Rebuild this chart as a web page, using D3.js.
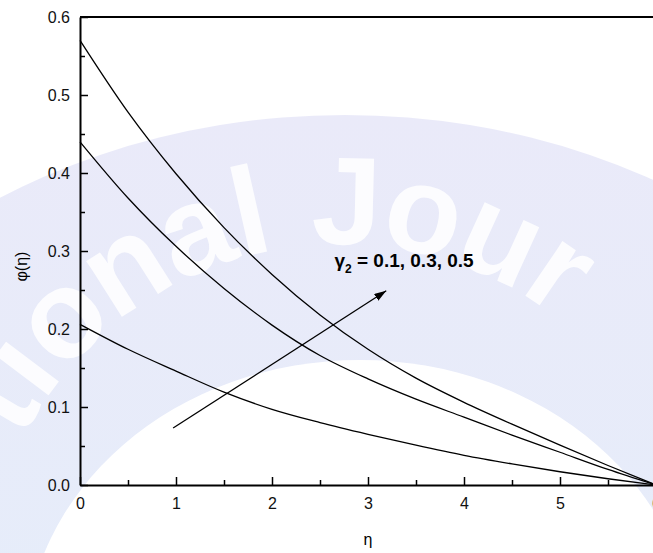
<!DOCTYPE html>
<html>
<head>
<meta charset="utf-8">
<script src="https://cdn.jsdelivr.net/npm/d3@7"></script>
<style>
  body { margin: 0; background: #fff; }
  text { font-family: Arial, "Liberation Sans", sans-serif; }
</style>
</head>
<body>
<svg id="chart" width="653" height="553"></svg>
<script>
// eta grid and concentration profiles
var etaValues = [0, 0.5, 1, 1.5, 2, 2.5, 3, 3.5, 4, 4.5, 5, 5.5, 6];
var phiGamma01 = [0.206, 0.174, 0.146, 0.119, 0.097, 0.080, 0.065, 0.051, 0.038, 0.027, 0.017, 0.008, 0];
var phiGamma03 = [0.440, 0.368, 0.306, 0.252, 0.205, 0.166, 0.136, 0.110, 0.087, 0.064, 0.042, 0.020, 0];
var phiGamma05 = [0.570, 0.478, 0.399, 0.330, 0.270, 0.218, 0.174, 0.137, 0.106, 0.078, 0.051, 0.025, 0];

var xTicks = [0, 1, 2, 3, 4, 5, 6];
var yTicks = [0.0, 0.1, 0.2, 0.3, 0.4, 0.5, 0.6];
var xMinor = [0.5, 1.5, 2.5, 3.5, 4.5, 5.5];
var yMinor = [0.05, 0.15, 0.25, 0.35, 0.45, 0.55];

// arrow: from -> to, in data units
var arrowFrom = [0.97, 0.073];
var arrowTo = [3.19, 0.249];
var labelPos = [2.65, 0.279];

var svg = d3.select('#chart');

// ---- faint watermark behind the plot ----
var defs = svg.append('defs');
var grad = defs.append('linearGradient')
	.attr('id', 'wmGrad')
	.attr('x1', 0).attr('y1', 0).attr('x2', 0).attr('y2', 1);
grad.append('stop').attr('offset', '0%').attr('stop-color', '#eaeaf9');
grad.append('stop').attr('offset', '55%').attr('stop-color', '#e5edfa');
grad.append('stop').attr('offset', '100%').attr('stop-color', '#ddf2fb');

var wm = svg.append('g').attr('class', 'watermark');
wm.append('ellipse')
	.attr('cx', 345).attr('cy', 640)
	.attr('rx', 640).attr('ry', 525)
	.style('fill', 'url(#wmGrad)');
wm.append('ellipse')
	.attr('cx', 360).attr('cy', 650)
	.attr('rx', 335).attr('ry', 290)
	.style('fill', '#ffffff');

defs.append('path')
	.attr('id', 'wmArc')
	.attr('d', 'M -60,600 A 400,400 0 0,1 740,600');
wm.append('text')
	.style('font-size', '125px')
	.style('font-weight', 'bold')
	.style('letter-spacing', '6px')
	.style('fill', '#ffffff')
	.style('fill-opacity', 0.85)
	.attr('dominant-baseline', 'central')
	.append('textPath')
	.attr('href', '#wmArc')
	.attr('startOffset', 190)
	.text('tional Jour');

// ---- scales ----
var x = d3.scaleLinear().domain([0, 6]).range([80, 656]);
var y = d3.scaleLinear().domain([0, 0.6]).range([485, 17]);

// top frame line
svg.append('line')
	.attr('x1', x(0)).attr('x2', x(6))
	.attr('y1', y(0.6)).attr('y2', y(0.6))
	.style('stroke', 'black')
	.style('stroke-width', 2);

// ---- curves ----
var line = d3.line()
	.x(function (d) { return x(d[0]); })
	.y(function (d) { return y(d[1]); })
	.curve(d3.curveMonotoneX);

[phiGamma01, phiGamma03, phiGamma05].forEach(function (series) {
	var pts = etaValues.map(function (e, i) { return [e, series[i]]; });
	svg.append('path')
		.datum(pts)
		.attr('d', line)
		.style('fill', 'none')
		.style('stroke', 'black')
		.style('stroke-width', 1.3);
});

// ---- axes ----
var yAxis = d3.axisLeft(y)
	.tickValues(yTicks)
	.tickFormat(d3.format('.1f'))
	.tickSize(-8)
	.tickSizeOuter(0)
	.tickPadding(10);
svg.append('g')
	.attr('transform', 'translate(' + x(0) + ',0)')
	.call(yAxis);
var gyMinor = svg.append('g')
	.attr('transform', 'translate(' + x(0) + ',0)')
	.call(d3.axisLeft(y).tickValues(yMinor).tickFormat('').tickSize(-5).tickSizeOuter(0));
gyMinor.select('.domain').remove();
gyMinor.selectAll('text').remove();

var xAxis = d3.axisBottom(x)
	.tickValues(xTicks)
	.tickFormat(d3.format('d'))
	.tickSize(-8)
	.tickSizeOuter(0)
	.tickPadding(13);
svg.append('g')
	.attr('transform', 'translate(0,' + y(0) + ')')
	.call(xAxis);
var gxMinor = svg.append('g')
	.attr('transform', 'translate(0,' + y(0) + ')')
	.call(d3.axisBottom(x).tickValues(xMinor).tickFormat('').tickSize(-5).tickSizeOuter(0));
gxMinor.select('.domain').remove();
gxMinor.selectAll('text').remove();

svg.selectAll('.domain').style('stroke-width', 2);
svg.selectAll('.tick line').style('stroke-width', 1.5);
svg.selectAll('.tick text')
	.style('font-size', '16px')
	.style('fill', '#111');

// axis titles
svg.append('text')
	.attr('x', x(3)).attr('y', 545)
	.attr('text-anchor', 'middle')
	.style('font-size', '16px')
	.text('η');
svg.append('text')
	.attr('transform', 'translate(27,' + y(0.28) + ') rotate(-90)')
	.attr('text-anchor', 'middle')
	.style('font-size', '16px')
	.text('φ(η)');

// ---- arrow and label ----
defs.append('marker')
	.attr('id', 'arrowHead')
	.attr('viewBox', '0 0 12 8')
	.attr('refX', 12).attr('refY', 4)
	.attr('markerWidth', 12).attr('markerHeight', 8)
	.attr('markerUnits', 'userSpaceOnUse')
	.attr('orient', 'auto')
	.append('path')
	.attr('d', 'M 0 0 L 12 4 L 0 8 Z')
	.style('fill', 'black');

svg.append('line')
	.attr('x1', x(arrowFrom[0])).attr('y1', y(arrowFrom[1]))
	.attr('x2', x(arrowTo[0])).attr('y2', y(arrowTo[1]))
	.style('stroke', 'black')
	.style('stroke-width', 1.3)
	.attr('marker-end', 'url(#arrowHead)');

var label = svg.append('text')
	.attr('x', x(labelPos[0])).attr('y', y(labelPos[1]))
	.style('font-size', '19px')
	.style('font-weight', 'bold');
label.append('tspan').text('γ');
label.append('tspan').attr('dy', 6).style('font-size', '12px').text('2');
label.append('tspan').attr('dy', -6).text(' = 0.1, 0.3, 0.5');
</script>
</body>
</html>
